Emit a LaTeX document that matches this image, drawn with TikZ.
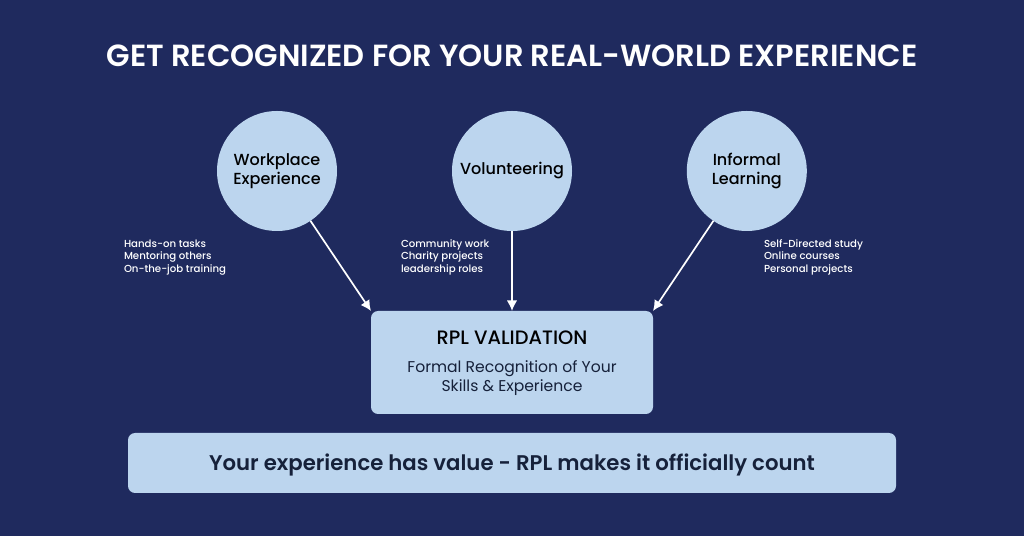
\documentclass[tikz,border=0pt]{standalone}
\usepackage{fontspec}
\usetikzlibrary{arrows.meta}
\setmainfont{Poppins}
\newfontfamily\medfont{Poppins Medium}
\newfontfamily\semifont{Poppins SemiBold}
\definecolor{navybg}{HTML}{1F2A5E}
\definecolor{paleblue}{HTML}{BCD5EE}
\definecolor{inkdark}{HTML}{16213A}
\begin{document}
\begin{tikzpicture}[inner sep=0pt,outer sep=0pt,
topic/.style={circle,fill=paleblue,minimum size=3cm,align=center,text=black,font=\medfont\fontsize{11.4}{13.5}\selectfont},
rplbox/.style={rectangle,rounded corners=5pt,fill=paleblue,minimum width=7.05cm,minimum height=2.575cm},
valuebox/.style={rectangle,rounded corners=5pt,fill=paleblue,minimum width=19.2cm,minimum height=1.5cm},
sidenote/.style={anchor=north west,align=left,text=white,font=\medfont\fontsize{7.25}{8.9}\selectfont},
feed/.style={draw=white,line width=1.2pt,-{Latex[length=7.5pt,width=7.5pt]}}]
\useasboundingbox[fill=navybg] (0,0) rectangle (25.6,13.4);
\draw (12.8,12) node[text=white,font=\semifont\fontsize{21.75}{26}\selectfont] (title) {GET RECOGNIZED FOR YOUR REAL-WORLD EXPERIENCE};
\draw (6.925,9.125) node[topic] (work) {Workplace\\Experience};
\draw (12.8,9.125) node[topic] (vol) {\raisebox{3.5pt}{Volunteering}};
\draw (18.67,9.125) node[topic] (inf) {Informal\\Learning};
\draw (12.8,4.3375) node[rplbox] (rpl) {};
\draw (12.8,4.95) node[text=black,font=\medfont\fontsize{13.8}{16}\selectfont] (rpltitle) {RPL VALIDATION};
\draw (12.8,3.96) node[align=center,text=inkdark,font=\fontsize{11.1}{13.5}\selectfont] (rpltext) {Formal Recognition of Your\\Skills \& Experience};
\draw (12.8,1.825) node[valuebox] (value) {};
\draw (12.8,1.775) node[text=inkdark,font=\semifont\fontsize{15.1}{18}\selectfont] (valuetext) {Your experience has value - RPL makes it officially count};
\draw (3.1,7.41) node[sidenote] (worknote) {Hands-on tasks\\Mentoring others\\On-the-job training};
\draw (10.025,7.41) node[sidenote] (volnote) {Community work\\Charity projects\\leadership roles};
\draw (19.1,7.41) node[sidenote] (infnote) {Self-Directed study\\Online courses\\Personal projects};
\draw[feed] (work) -- (rpl.north west);
\draw[feed] (vol) -- (rpl.north);
\draw[feed] (inf) -- (rpl.north east);
\end{tikzpicture}
\end{document}
